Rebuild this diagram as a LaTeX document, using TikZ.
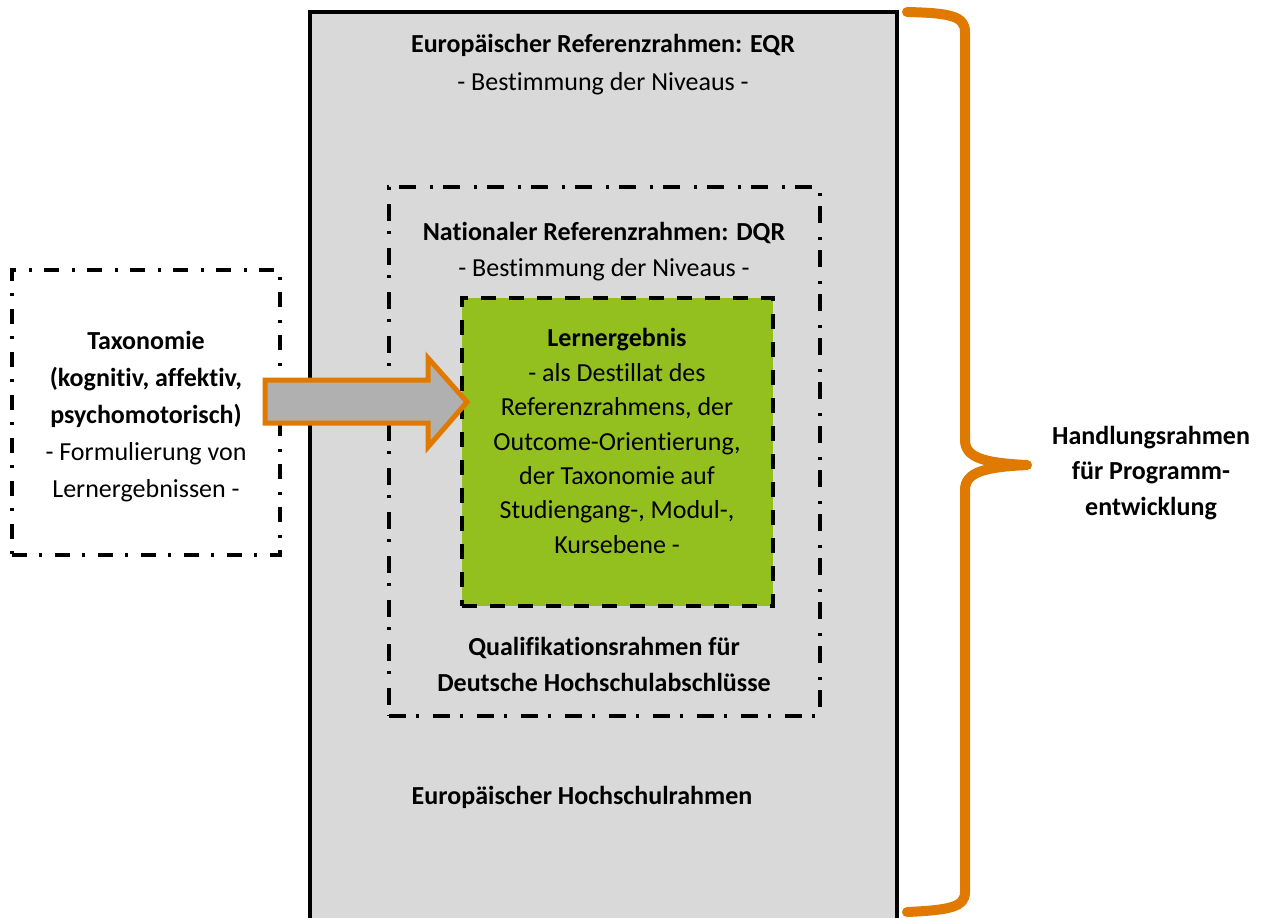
\documentclass[tikz,border=0pt]{standalone}
\usepackage{fontspec}
\setmainfont{Carlito}[Ligatures={NoCommon,NoContextual}, Contextuals=NoAlternate]
\newcommand{\nolig}{\kern0pt }
\definecolor{boxgray}{RGB}{217,217,217}
\definecolor{arrowgray}{RGB}{176,176,176}
\definecolor{lgreen}{RGB}{147,192,31}
\definecolor{brorange}{RGB}{224,121,0}
\begin{document}
\begin{tikzpicture}[x=0.5pt,y=-0.5pt,
  font=\fontsize{13}{17.5}\selectfont,
  txt/.style={align=center, inner sep=0pt},
  frame/.style={rectangle, inner sep=0pt},
  dqrline/.style={line width=2pt, dash pattern=on 8.5pt off 5pt on 1.5pt off 7pt},
  taxline/.style={line width=1.8pt, dash pattern=on 7.5pt off 6pt on 1.5pt off 6.5pt},
  greenline/.style={line width=2pt, dash pattern=on 7.5pt off 6.5pt},
  blockarrow/.style={draw=brorange, fill=arrowgray, line width=2.5pt, miter limit=10},
  brace/.style={draw=brorange, line width=5pt, line cap=round, line join=round}]
\useasboundingbox (0,0) rectangle (1261,917);
\clip (0,0) rectangle (1261,917);
% outer EQR box
\node[frame, draw=black, line width=1.6pt, fill=boxgray, minimum width=293.5pt, minimum height=464pt] (eqr) at (603.5,476) {};
% DQR box
\node[frame, draw=black, dqrline, minimum width=215.5pt, minimum height=264.5pt] (dqr) at (604.5,451.5) {};
% green box
\node[frame, draw=black, fill=lgreen, greenline, minimum width=155.5pt, minimum height=154pt] (lern) at (617.5,452) {};
% taxonomy box
\node[frame, draw=black, fill=white, taxline, minimum width=134pt, minimum height=142.5pt] (tax) at (146,412.5) {};
% block arrow
\draw[blockarrow] (265,380) -- (428,380) -- (428,358) -- (467,402) -- (428,447) -- (428,423) -- (265,423) -- cycle;
% brace
\draw[brace] (907,12) .. controls (950,13) and (965,16) .. (965,32) -- (965,440)
  .. controls (965,458) and (985,463) .. (1027,465)
  .. controls (985,467) and (965,472) .. (965,490) -- (965,892)
  .. controls (965,907) and (950,910) .. (907,912);
% texts
\node[txt, font=\fontsize{13}{19}\selectfont] (eqrT) at (603,65) {\textbf{Europäischer Referenzrahmen: EQR}\\- Bestimmung der Niveaus -};
\node[txt, font=\fontsize{13}{18}\selectfont] (dqrT) at (604,252) {\textbf{Nationaler Referenzrahmen: DQR}\\- Bestimmung der Niveaus -};
\node[txt, font=\fontsize{13}{17.2}\selectfont] (lernT) at (617,441) {\textbf{Lernergebnis}\\- als Dest\nolig illat des\\Referenzrahmens, der\\Outcome-Orient\nolig ierung,\\der Taxonomie auf\\Studiengang-, Modul-,\\Kursebene -};
\node[txt, font=\bfseries\fontsize{13}{18}\selectfont] (qualT) at (604,664) {Qualifikat\nolig ionsrahmen für\\Deutsche Hochschulabschlüsse};
\node[txt, font=\bfseries\fontsize{13}{18}\selectfont] (ehrT) at (582,797) {Europäischer Hochschulrahmen};
\node[txt, font=\fontsize{13}{18.5}\selectfont] (taxT) at (146,417) {\textbf{Taxonomie}\\\textbf{(kognit\nolig iv, affekt\nolig iv,}\\\textbf{psychomotorisch)}\\- Formulierung von\\Lernergebnissen -};
\node[txt, font=\bfseries\fontsize{13}{17.7}\selectfont] (handT) at (1151,473) {Handlungsrahmen\\für Programm-\\entwicklung};
\end{tikzpicture}
\end{document}
